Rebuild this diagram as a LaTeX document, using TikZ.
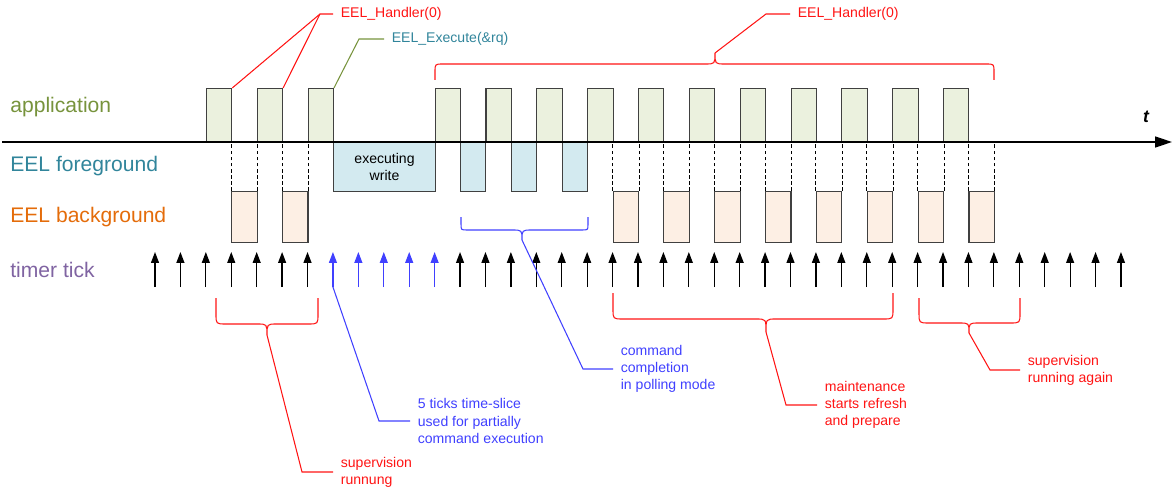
\documentclass[tikz,border=0pt]{standalone}
\usepackage{fontspec}
\setmainfont{Liberation Sans}
\usepackage{tikz}
\usetikzlibrary{arrows.meta}
\definecolor{appcol}{RGB}{119,147,60}
\definecolor{fgcol}{RGB}{49,133,155}
\definecolor{bgcol}{RGB}{228,108,10}
\definecolor{tickcol}{RGB}{128,100,162}
\definecolor{appfill}{RGB}{235,241,222}
\definecolor{fgfill}{RGB}{211,234,240}
\definecolor{bgfill}{RGB}{253,239,228}
\definecolor{callred}{RGB}{255,20,20}
\definecolor{callblue}{RGB}{64,64,255}

\begin{document}
\begin{tikzpicture}[x=0.02cm,y=-0.02cm,
  rowlabel/.style={anchor=west,inner sep=0pt,font=\fontsize{12}{14}\selectfont},
  calltxt/.style={anchor=west,inner xsep=0.15cm,inner ysep=0pt,align=left,font=\fontsize{8}{9.7}\selectfont},
  appbox/.style={rectangle,draw=black!75,fill=appfill,line width=0.6pt,inner sep=0pt,minimum width=0.508cm,minimum height=1.06cm,anchor=south west},
  fgbox/.style={rectangle,draw=black!75,fill=fgfill,line width=0.6pt,inner sep=0pt,minimum width=0.508cm,minimum height=0.98cm,anchor=north west},
  bgbox/.style={rectangle,draw=black!75,fill=bgfill,line width=0.6pt,inner sep=0pt,minimum width=0.508cm,minimum height=1.02cm,anchor=north west},
  dashline/.style={black,line width=0.5pt,dash pattern=on 2pt off 1.5pt},
  tickarr/.style={->,>={Triangle[length=0.22cm,width=0.16cm]},line width=0.7pt},
  redline/.style={callred,line width=0.6pt},
  blueline/.style={callblue,line width=0.6pt}]
\useasboundingbox (0,0) rectangle (1172,493);

% row labels
\node[rowlabel,text=appcol] (lapp) at (10,107) {application};
\node[rowlabel,text=fgcol] (lfg) at (10,166) {EEL foreground};
\node[rowlabel,text=bgcol] (lbg) at (10,217) {EEL background};
\node[rowlabel,text=tickcol] (ltick) at (10,269.5) {timer tick};

% application slots
\foreach \i in {2,4,6,11,13,15,17,19,21,23,25,27,29,31}
  \node[appbox] (a\i) at ({155+25.42*\i},142) {};

% EEL foreground
\node[fgbox,minimum width=2.04cm,align=center,font=\fontsize{8}{9.7}\selectfont] (exw) at (333,142) {executing\\write};
\foreach \i in {12,14,16}
  \node[fgbox] (f\i) at ({155+25.42*\i},142) {};

% EEL background with dashed guides
\foreach \i in {3,5,18,20,22,24,26,28,30,32} {
  \node[bgbox] (b\i) at ({155+25.42*\i},191) {};
  \draw[dashline] (b\i.north west) -- ++(0,-49);
  \draw[dashline] (b\i.north east) -- ++(0,-49);
}

% time axis
\coordinate (axl) at (2,142);
\coordinate (axr) at (1172,142);
\draw[->,>={Triangle[length=0.34cm,width=0.22cm]},line width=0.8pt] (axl) -- (axr);
\node[font=\fontsize{10}{12}\selectfont\bfseries\itshape] (tlab) at (1146,117) {t};

% timer ticks
\foreach \i in {0,...,38}
  \coordinate (tk\i) at ({155+25.42*\i},287);
\foreach \i in {0,...,6,12,13,...,38}
  \draw[tickarr] (tk\i) -- ++(0,-35);
\foreach \i in {7,...,11}
  \draw[tickarr,callblue] (tk\i) -- ++(0,-35);

% callouts on top
\node[calltxt,text=callred] (hdl) at (333,14) {EEL\_Handler(0)};
\coordinate (hdk) at (320,14);
\draw[redline] (a2.north east) -- (hdk) -- (hdl.west);
\draw[redline] (a4.north east) -- (hdk);

\node[calltxt,text=fgcol] (exe) at (384,39) {EEL\_Execute(\&rq)};
\coordinate (exk) at (359,39);
\draw[appcol,line width=0.6pt] (a6.north east) -- (exk) -- (exe.west);

\draw[redline] (435,80) -- (435,72) .. controls (435,64) .. (443,64) -- (705,64)
  .. controls (715,64) .. (715,53) coordinate (hbc) .. controls (715,64) .. (725,64)
  -- (986,64) .. controls (994,64) .. (994,72) -- (994,80);
\node[calltxt,text=callred] (hdr) at (790,14) {EEL\_Handler(0)};
\coordinate (hdrk) at (766,14);
\draw[redline] (hbc) -- (hdrk) -- (hdr.west);

% blue brace under polling commands
\draw[blueline] (461,217) -- (461,224) .. controls (461,230) .. (467,230) -- (512,230)
  .. controls (522,230) .. (522,240) coordinate (pbc) .. controls (522,230) .. (532,230)
  -- (582,230) .. controls (588,230) .. (588,224) -- (588,217);
\node[calltxt,text=callblue] (poll) at (613,369) {command\\completion\\in polling mode};
\coordinate (pollk) at (583,369);
\draw[blueline] (pbc) -- (pollk) -- (poll.west);

% time slice
\node[calltxt,text=callblue] (slice) at (410,421) {5 ticks time-slice\\used for partially\\command execution};
\coordinate (slicek) at (379,421);
\draw[blueline] (tk7) -- (slicek) -- (slice.west);

% supervision
\draw[redline] (216,298) -- (216,314) .. controls (216,324) .. (226,324) -- (257,324)
  .. controls (267,324) .. (267,335) coordinate (s1c) .. controls (267,324) .. (277,324)
  -- (308,324) .. controls (318,324) .. (318,314) -- (318,298);
\node[calltxt,text=callred] (sup1) at (333,472) {supervision\\runnung};
\coordinate (sup1k) at (302,472);
\draw[redline] (s1c) -- (sup1k) -- (sup1.west);

% maintenance
\draw[redline] (613,293) -- (613,309) .. controls (613,319) .. (623,319) -- (756,319)
  .. controls (766,319) .. (766,332) coordinate (mc) .. controls (766,319) .. (776,319)
  -- (883,319) .. controls (893,319) .. (893,309) -- (893,293);
\node[calltxt,text=callred] (maint) at (817,405) {maintenance\\starts refresh\\and prepare};
\coordinate (maintk) at (786,405);
\draw[redline] (mc) -- (maintk) -- (maint.west);

% supervision again
\draw[redline] (919,298) -- (919,313) .. controls (919,323) .. (929,323) -- (959,323)
  .. controls (969,323) .. (969,333) coordinate (s2c) .. controls (969,323) .. (979,323)
  -- (1010,323) .. controls (1020,323) .. (1020,313) -- (1020,298);
\node[calltxt,text=callred] (sup2) at (1020,370) {supervision\\running again};
\coordinate (sup2k) at (990,370);
\draw[redline] (s2c) -- (sup2k) -- (sup2.west);

\end{tikzpicture}
\end{document}
